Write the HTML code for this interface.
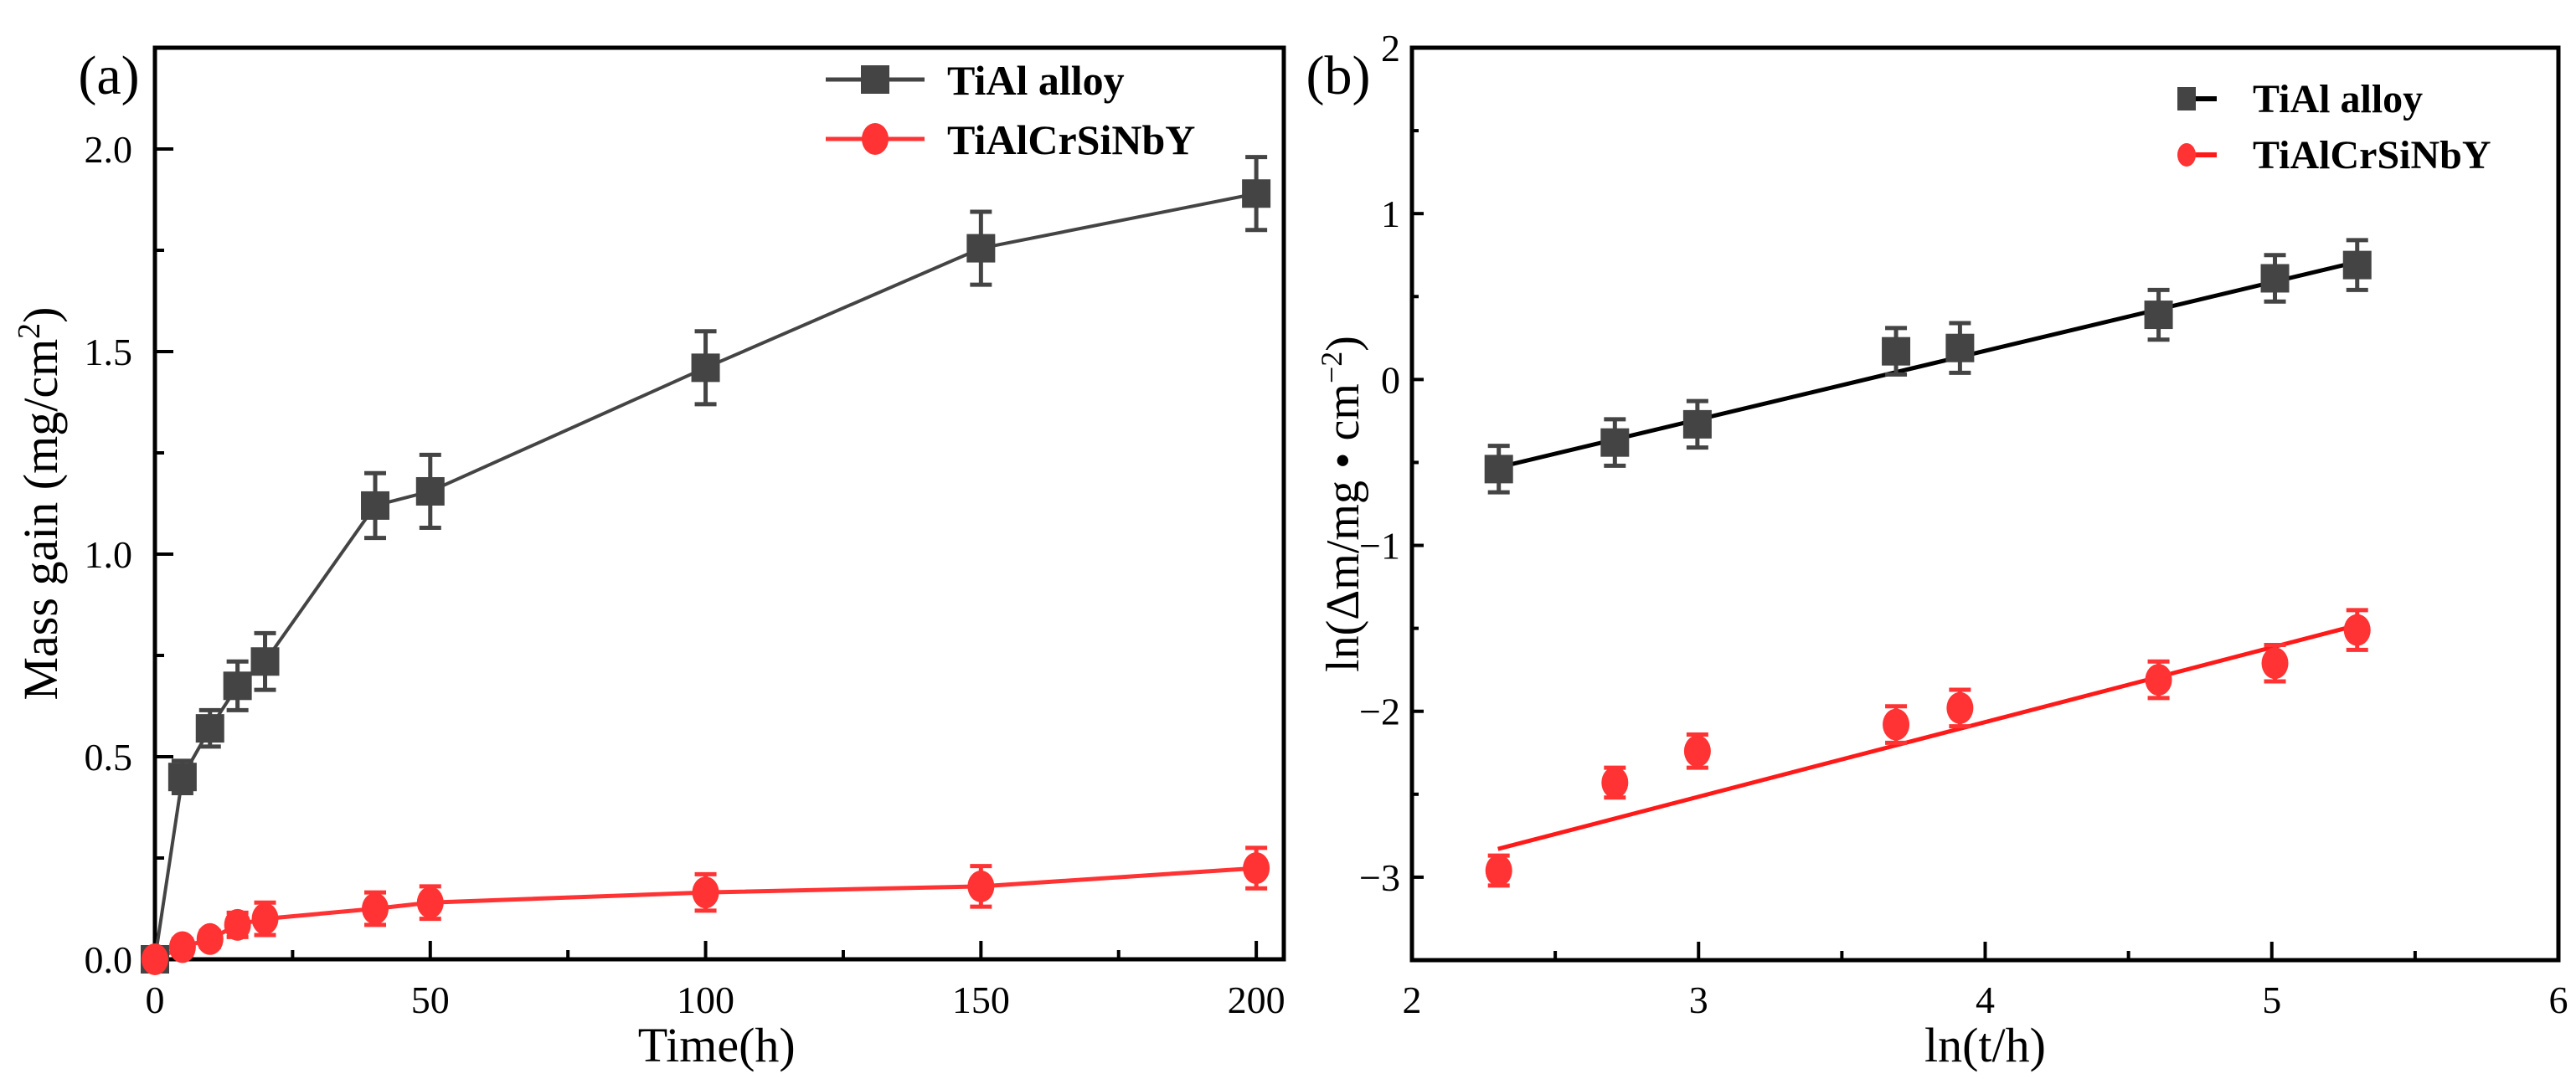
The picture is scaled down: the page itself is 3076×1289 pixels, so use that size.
<!DOCTYPE html>
<html><head><meta charset="utf-8"><style>
html,body{margin:0;padding:0;background:#fff;}
svg{display:block;font-family:"Liberation Serif",serif;}
</style></head><body>
<svg id="chart" width="3076" height="1289" viewBox="0 0 3076 1289" xmlns="http://www.w3.org/2000/svg">
<g id="pa"></g>
<g id="pb"></g>
</svg>
<script>
// Panel (a) data
const aTime = [0, 5, 10, 15, 20, 40, 50, 100, 150, 200];
const aTiAl = [0, 0.45, 0.57, 0.675, 0.735, 1.12, 1.155, 1.46, 1.755, 1.89];
const aTiAlErr = [0, 0.04, 0.045, 0.06, 0.07, 0.08, 0.09, 0.09, 0.09, 0.09];
const aCoat = [0, 0.03, 0.05, 0.085, 0.1, 0.125, 0.14, 0.165, 0.18, 0.225];
const aCoatErr = [0, 0.02, 0.02, 0.03, 0.04, 0.04, 0.04, 0.045, 0.05, 0.05];
const aXTicks = ["0", "50", "100", "150", "200"];
const aYTicks = ["0.0", "0.5", "1.0", "1.5", "2.0"];
// Panel (b) data
const bLnT = [2.303, 2.708, 2.996, 3.689, 3.912, 4.605, 5.011, 5.298];
const bTiAl = [-0.54, -0.38, -0.27, 0.17, 0.19, 0.39, 0.61, 0.69];
const bTiAlErr = [0.14, 0.14, 0.14, 0.14, 0.15, 0.15, 0.14, 0.15];
const bCoat = [-2.96, -2.43, -2.24, -2.08, -1.98, -1.81, -1.71, -1.51];
const bCoatErr = [0.09, 0.09, 0.1, 0.11, 0.11, 0.11, 0.11, 0.12];
const bTiAlFit = [-0.53, 0.71];
const bCoatFit = [-2.83, -1.48];
const bFitX = [2.3, 5.3];
const bXTicks = ["2", "3", "4", "5", "6"];
const bYTicks = ["-3", "-2", "-1", "0", "1", "2"];

const NS = "http://www.w3.org/2000/svg";
function mk(parent, tag, attrs, text) {
  const e = document.createElementNS(NS, tag);
  for (const k in attrs) e.setAttribute(k, attrs[k]);
  if (text !== undefined) e.textContent = text;
  parent.appendChild(e);
  return e;
}
const GRAY = "#444", RED = "#ff3333";

function frame(g, L, R, T, B) {
  const f = mk(g, "rect", {x: L, y: T, width: R - L, height: B - T, fill: "none", stroke: "#000", "stroke-width": 5});
  
  
}
function tick(g, x1, y1, x2, y2) {
  const t = mk(g, "line", {x1, y1, x2, y2, stroke: "#000", "stroke-width": 4});
  
  
}
function label(g, x, y, txt, size, anchor, name) {
  const t = mk(g, "text", {x, y, "font-size": size, "text-anchor": anchor}, txt);
  
  
  return t;
}
function errBar(g, x, y1, y2, color) {
  const e = mk(g, "g", {stroke: color, "stroke-width": 5});
  
  
  mk(e, "line", {x1: x, y1: y1, x2: x, y2: y2});
  mk(e, "line", {x1: x - 13, y1: y1, x2: x + 13, y2: y1});
  mk(e, "line", {x1: x - 13, y1: y2, x2: x + 13, y2: y2});
}
function square(g, x, y) {
  const s = mk(g, "rect", {x: x - 17, y: y - 17, width: 34, height: 34, fill: GRAY});
  
  
}
function circle(g, x, y) {
  const c = mk(g, "ellipse", {cx: x, cy: y, rx: 16, ry: 19, fill: RED});
  
  
}
function series(g, xs, ys, color, w) {
  const p = mk(g, "polyline", {points: xs.map((x, i) => x + "," + ys[i]).join(" "), fill: "none", stroke: color, "stroke-width": w});
  return p;
}

// ---------- Panel A ----------
(function () {
  const g = document.getElementById("pa");
  const L = 185, R = 1533, T = 57, B = 1146;
  const xmin = 0, xmax = 205, ymin = 0, ymax = 2.25;
  const X = v => L + (v - xmin) / (xmax - xmin) * (R - L);
  const Y = v => B - (v - ymin) / (ymax - ymin) * (B - T);
  frame(g, L, R, T, B);
  for (let v = 0; v <= 200; v += 25) {
    const major = v % 50 === 0;
    tick(g, X(v), B, X(v), B - (major ? 22 : 11));
  }
  aXTicks.forEach(s => label(g, X(+s), 1210, s, 46, "middle", "x-tick-label"));
  for (let v = 0.25; v <= 2.0001; v += 0.25) {
    const major = Math.abs(v * 2 - Math.round(v * 2)) < 1e-6;
    tick(g, L, Y(v), L + (major ? 22 : 11), Y(v));
  }
  aYTicks.forEach(s => label(g, 158, Y(+s) + 16, s, 46, "end", "y-tick-label"));
  label(g, X(102), 1268, "Time(h)", 58, "middle", "x-axis-title");
  const yt = label(g, 0, 0, "", 58, "middle", "y-axis-title");
  yt.setAttribute("transform", "translate(68," + ((T + B) / 2) + ") rotate(-90)");
  yt.innerHTML = 'Mass gain  (mg/cm<tspan baseline-shift="super" font-size="38">2</tspan>)';
  label(g, 130, 112, "(a)", 66, "middle", "panel-label-a");

  const l1 = series(g, aTime.map(X), aTiAl.map(Y), GRAY, 4);
  
  
  const l2 = series(g, aTime.map(X), aCoat.map(Y), RED, 5);
  
  
  aTime.forEach((t, i) => {
    if (aTiAlErr[i] > 0) errBar(g, X(t), Y(aTiAl[i] + aTiAlErr[i]), Y(aTiAl[i] - aTiAlErr[i]), GRAY);
    square(g, X(t), Y(aTiAl[i]));
  });
  aTime.forEach((t, i) => {
    if (aCoatErr[i] > 0) errBar(g, X(t), Y(aCoat[i] + aCoatErr[i]), Y(aCoat[i] - aCoatErr[i]), RED);
    circle(g, X(t), Y(aCoat[i]));
  });
  // legend
  const lg = mk(g, "g", {});
  
  
  mk(lg, "line", {x1: 986, y1: 95, x2: 1104, y2: 95, stroke: GRAY, "stroke-width": 5});
  square(lg, 1045, 95);
  mk(lg, "line", {x1: 986, y1: 166, x2: 1104, y2: 166, stroke: RED, "stroke-width": 5});
  circle(lg, 1045, 166);
  label(lg, 1131, 113, "TiAl alloy", 50, "start", "legend-entry-tial").setAttribute("font-weight", "bold");
  label(lg, 1131, 184, "TiAlCrSiNbY", 50, "start", "legend-entry-coating").setAttribute("font-weight", "bold");
})();

// ---------- Panel B ----------
(function () {
  const g = document.getElementById("pb");
  const L = 1686, R = 3055, T = 57, B = 1147;
  const xmin = 2, xmax = 6, ymin = -3.5, ymax = 2;
  const X = v => L + (v - xmin) / (xmax - xmin) * (R - L);
  const Y = v => B - (v - ymin) / (ymax - ymin) * (B - T);
  frame(g, L, R, T, B);
  for (let v = 2.5; v < 6; v += 0.5) {
    const major = Math.abs(v - Math.round(v)) < 1e-6;
    tick(g, X(v), B, X(v), B - (major ? 22 : 11));
  }
  bXTicks.forEach(s => label(g, X(+s), 1210, s, 46, "middle", "x-tick-label"));
  for (let v = -3; v <= 1.5; v += 0.5) {
    const major = Math.abs(v - Math.round(v)) < 1e-6;
    tick(g, L, Y(v), L + (major ? 14 : 8), Y(v));
  }
  bYTicks.forEach(s => label(g, 1672, Y(+s) + 16, s.replace("-", "\u2212"), 46, "end", "y-tick-label"));
  label(g, X(4), 1268, "ln(t/h)", 58, "middle", "x-axis-title");
  const yt = label(g, 0, 0, "", 56, "middle", "y-axis-title");
  yt.setAttribute("transform", "translate(1622," + ((T + B) / 2) + ") rotate(-90)");
  yt.innerHTML = 'ln(\u0394m/mg \u2022 cm<tspan baseline-shift="super" font-size="36">\u22122</tspan>)';
  label(g, 1598, 112, "(b)", 66, "middle", "panel-label-b");

  const f1 = mk(g, "line", {x1: X(bFitX[0]), y1: Y(bTiAlFit[0]), x2: X(bFitX[1]), y2: Y(bTiAlFit[1]), stroke: "#000", "stroke-width": 5});
  
  
  const f2 = mk(g, "line", {x1: X(bFitX[0]), y1: Y(bCoatFit[0]), x2: X(bFitX[1]), y2: Y(bCoatFit[1]), stroke: "#ff1a1a", "stroke-width": 5});
  
  
  bLnT.forEach((t, i) => {
    errBar(g, X(t), Y(bTiAl[i] + bTiAlErr[i]), Y(bTiAl[i] - bTiAlErr[i]), GRAY);
    square(g, X(t), Y(bTiAl[i]));
    errBar(g, X(t), Y(bCoat[i] + bCoatErr[i]), Y(bCoat[i] - bCoatErr[i]), RED);
    circle(g, X(t), Y(bCoat[i]));
  });
  const lg = mk(g, "g", {});
  
  
  mk(lg, "line", {x1: 2612, y1: 118, x2: 2647, y2: 118, stroke: "#000", "stroke-width": 6});
  mk(lg, "rect", {x: 2600, y: 104, width: 22, height: 28, fill: GRAY});
  mk(lg, "line", {x1: 2612, y1: 185, x2: 2647, y2: 185, stroke: "#ff1a1a", "stroke-width": 6});
  mk(lg, "ellipse", {cx: 2611, cy: 185, rx: 11, ry: 14, fill: RED});
  label(lg, 2690, 134, "TiAl alloy", 48, "start", "legend-entry-tial").setAttribute("font-weight", "bold");
  label(lg, 2690, 201, "TiAlCrSiNbY", 48, "start", "legend-entry-coating").setAttribute("font-weight", "bold");
})();
</script>
</body></html>
